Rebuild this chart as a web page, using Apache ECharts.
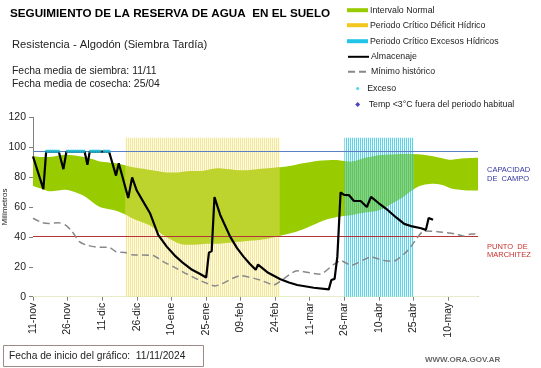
<!DOCTYPE html>
<html><head><meta charset="utf-8">
<script src="https://cdn.jsdelivr.net/npm/echarts@6/dist/echarts.min.js"></script>
<style>html,body{margin:0;padding:0;background:#fff}#c{width:541px;height:368px}</style>
</head><body><div id="c"></div>
<script>
// ---------- DATA ----------
const tickLabels = ['11-nov','26-nov','11-dic','26-dic','10-ene','25-ene','09-feb','24-feb','11-mar','26-mar','10-abr','25-abr','10-may'];
const tickStep = 15;          // days between labels
const axisDays = 193;         // length of the x axis in days (from 11/11/2024)

const bandDays = [0,4,7,11,14,18,22,26,29,33,36,40,43,47,51,54,58,62,65,69,72,76,80,84,87,91,94,98,102,105,109,113,116,120,123,127,131,134,138,141,145,149,152,156,160,163,167,170,174,178,181,185,189,193];
const bandHigh = [94,93.5,93.5,94.5,95,94.5,93.5,92,90.5,89.8,89.3,88,86.8,85.8,84.8,84,83,83,83.5,84,84,85,86,85.5,85,84.5,84.8,85.5,86,86.5,87,88,89,90,90.8,91.3,91.5,91,90.5,91.5,93.2,94.5,95,95.2,95.4,95.5,95.3,94.8,93.8,92.5,91.6,92.3,92.8,93];
const bandLow = [74,72,70.5,71,71.5,70,67.5,63,60,58.5,57.5,55,52.5,50,47.5,44,39.8,36.5,35,34.8,35,35.5,35.5,36,36.5,37,37.5,38,39,40,41.5,43,44.5,47,49,51.5,53,53.8,54.5,55.5,56.5,57.3,59,62.5,66,69.5,73.5,75,75.5,74.5,72.5,71.5,71,71];

const minDays = [0,4,7,11,14,17,20,23,29,33,36,40,43,52,57,61,67,73,79,90,98.5,104.5,107,114.5,124.5,130.5,133.5,138,146.5,153.5,156.5,162.5,166.5,169.5,175.5,183,187,190,193];
const minVals = [52.5,49.5,49,49.5,48,43.5,37,34.6,33,33,30.1,29.5,28,27.5,23,20,15,10.5,7.2,14.1,11.2,7.8,10,17.3,15,21.7,24.1,21,26.5,23.9,23.9,30.8,39.1,44,43.5,42,40.6,42,42];

const storeDays = [0,4.5,5.7,11.2,13.2,14.5,22.4,23.6,24.6,33,36,37.2,41.3,43,45,47.8,50.7,54.3,58,61.5,65.2,69,72.5,75.1,76.3,77.5,78.7,81.2,85.5,88.5,91.3,94,96.6,97.6,102,107.3,111,114.6,121.8,128.3,129.4,130.8,132,133.4,134.9,137,139.2,142.1,144.8,146.6,150,153.8,157.5,161,164.5,168.3,170.4,171.6,173.5];
const storeVals = [93.8,72,97,97,85.3,97,97,88.2,97,97,81,89.3,66,79.8,71,63.6,56,41.3,33.5,27.5,22.4,18,15.2,12.8,29.5,30.5,66.6,54.7,40.2,32.5,26.8,22,18,21.5,16,11.7,9.5,7.8,6,4.9,11.2,11.9,26.8,69.8,68.1,68,64,64,60,66.8,62.5,58,53,48.7,47,45.8,44.7,52.7,51.4];

const excesoDays = [6,7,8,9,10,11,15,16,17,18,19,20,21,22,25,26,27,28,29,31,32,33];
const excesoLevel = 97.3;

const capacidadCampo = 97;
const puntoMarchitez = 40.5;
const deficitPeriod = [40, 107];
const excesoPeriod = [135, 165];
const periodTop = 106.3;

// ---------- CHART ----------
const FF = "'Liberation Sans', Arial, sans-serif";
const zip = (a, b) => a.map((v, i) => [v, b[i]]);
function stripes(dark, light) {
  const c = document.createElement('canvas');
  c.width = 2; c.height = 2;
  const g = c.getContext('2d');
  g.fillStyle = dark; g.fillRect(0, 0, 1, 2);
  g.fillStyle = light; g.fillRect(1, 0, 1, 2);
  return { image: c, repeat: 'repeat' };
}
const chart = echarts.init(document.getElementById('c'), null, { renderer: 'canvas' });

function leg(name, centerY, extra) {
  return Object.assign({
    data: [name], left: 347, top: centerY - 6, padding: 0, itemWidth: 21, itemHeight: 4,
    selectedMode: false, icon: 'rect',
    textStyle: { fontSize: 8.8, color: '#222', fontFamily: FF, padding: [0, 0, 0, -3] }
  }, extra || {});
}
const smallText = { fontSize: 8.8, color: '#222', fontFamily: FF };

const tickValues = tickLabels.map((_, i) => i * tickStep);

chart.setOption({
  animation: false,
  textStyle: { fontFamily: FF },
  title: [
    { text: 'SEGUIMIENTO DE LA RESERVA DE AGUA  EN EL SUELO', left: 10, top: 7.5, padding: 0,
      textStyle: { fontSize: 11.7, fontWeight: 'bold', color: '#000', fontFamily: FF } },
    { text: 'Resistencia - Algodón (Siembra Tardía)', left: 12, top: 39.5, padding: 0,
      textStyle: { fontSize: 11.2, fontWeight: 'normal', color: '#222', fontFamily: FF } },
    { text: 'Fecha media de siembra: 11/11\nFecha media de cosecha: 25/04', left: 12, top: 65, padding: 0,
      textStyle: { fontSize: 10.4, fontWeight: 'normal', color: '#222', lineHeight: 13, fontFamily: FF } }
  ],
  legend: [
    leg('Intervalo Normal', 11.7),
    leg('Periodo Crítico Déficit Hídrico', 26.7),
    leg('Periodo Crítico Excesos Hídricos', 42.7),
    leg('Almacenaje', 58.3, { icon: 'inherit', itemStyle: { opacity: 0 } }),
    leg('Mínimo histórico', 73.3, { icon: 'inherit', itemStyle: { opacity: 0 } }),
    leg('Exceso', 90, { icon: 'circle', itemWidth: 3, itemHeight: 3, left: 356.2, textStyle: Object.assign({}, smallText, { padding: [0, 0, 0, 3] }) }),
    leg('Temp <3°C fuera del periodo habitual', 106, { icon: 'diamond', itemWidth: 5, itemHeight: 5, left: 355.2, textStyle: Object.assign({}, smallText, { padding: [0, 0, 0, 3.5] }) })
  ],
  grid: { left: 33, right: 63, top: 117.3, bottom: 71.3, containLabel: false, outerBoundsMode: 'none' },
  xAxis: {
    type: 'value', min: 0, max: axisDays,
    splitLine: { show: false },
    axisLine: { show: true, lineStyle: { color: '#808080', width: 1 } },
    axisTick: { show: true, length: 4, customValues: tickValues, lineStyle: { color: '#808080' } },
    axisLabel: {
      customValues: tickValues, rotate: 90, margin: 6, fontSize: 10.5, color: '#222', fontFamily: FF,
      formatter: v => tickLabels[Math.round(v / tickStep)] || ''
    }
  },
  yAxis: {
    type: 'value', min: 0, max: 120, interval: 20,
    splitLine: { show: false },
    axisLine: { show: true, lineStyle: { color: '#808080', width: 1 } },
    axisTick: { show: true, length: 4, lineStyle: { color: '#808080' } },
    axisLabel: { fontSize: 10.5, color: '#222', margin: 7, fontFamily: FF }
  },
  series: [
    { name: 'bandHi', type: 'line', data: zip(bandDays, bandHigh), symbol: 'none', smooth: 0.3,
      lineStyle: { opacity: 0 }, areaStyle: { color: '#99cc00', opacity: 1 }, silent: true, z: 1 },
    { name: 'bandLo', type: 'line', data: zip(bandDays, bandLow), symbol: 'none', smooth: 0.3,
      lineStyle: { opacity: 0 }, areaStyle: { color: '#ffffff', opacity: 1 }, silent: true, z: 1.5 },
    { name: 'Intervalo Normal', type: 'bar', data: [], itemStyle: { color: '#99cc00' } },
    { name: 'Periodo Crítico Déficit Hídrico', type: 'bar', data: [], itemStyle: { color: '#f2c81e' }, z: 3,
      markArea: { silent: true, z: 3, itemStyle: { color: stripes('rgba(236,212,70,0.55)', 'rgba(250,242,170,0.3)') },
        data: [[{ xAxis: deficitPeriod[0], yAxis: 0 }, { xAxis: deficitPeriod[1], yAxis: periodTop }]] } },
    { name: 'Periodo Crítico Excesos Hídricos', type: 'bar', data: [], itemStyle: { color: '#22c4e8' }, z: 3,
      markArea: { silent: true, z: 3, itemStyle: { color: stripes('rgba(40,195,225,0.75)', 'rgba(190,235,245,0.25)') },
        data: [[{ xAxis: excesoPeriod[0], yAxis: 0 }, { xAxis: excesoPeriod[1], yAxis: periodTop }]] } },
    { name: 'Mínimo histórico', type: 'line', data: zip(minDays, minVals), symbol: 'none', smooth: 0.2, z: 5,
      lineStyle: { color: '#888', width: 1.5, type: [7, 4] }, itemStyle: { color: '#888' },
      markLine: { silent: true, z: 5, symbol: 'none', label: { show: false },
        data: [
          { yAxis: capacidadCampo, lineStyle: { color: '#5b7fc4', width: 1, type: 'solid' } },
          { yAxis: puntoMarchitez, lineStyle: { color: '#b3343a', width: 1, type: 'solid' } }
        ] } },
    { name: 'Almacenaje', type: 'line', data: zip(storeDays, storeVals), symbol: 'none', z: 8,
      lineStyle: { color: '#000', width: 2.2 }, itemStyle: { color: '#000' } },
    { name: 'Exceso', type: 'scatter', data: excesoDays.map(d => [d, excesoLevel]), symbol: 'rect',
      symbolSize: [3, 3], itemStyle: { color: '#22c8e8' }, z: 10 },
    { name: 'Temp <3°C fuera del periodo habitual', type: 'scatter', data: [], symbol: 'diamond',
      itemStyle: { color: '#1a1aa8' } }
  ],
  graphic: [
    { type: 'text', x: 5, y: 207, rotation: Math.PI / 2, style: { text: 'Milímetros', fill: '#222',
      font: '8px ' + FF, align: 'center', verticalAlign: 'middle' } },
    { type: 'text', left: 487, top: 166, style: { text: 'CAPACIDAD\nDE  CAMPO', fill: '#3535a5',
      font: '7.5px ' + FF, lineHeight: 8.5 } },
    { type: 'text', left: 487, top: 242.5, style: { text: 'PUNTO  DE\nMARCHITEZ', fill: '#c8312b',
      font: '7.5px ' + FF, lineHeight: 8.5 } },
    { type: 'rect', shape: { x: 3.5, y: 345.5, width: 200, height: 21 },
      style: { fill: '#fff', stroke: '#9e8888', lineWidth: 1 } },
    { type: 'text', x: 9, y: 356, style: { text: 'Fecha de inicio del gráfico:  11/11/2024', fill: '#222',
      font: '10.2px ' + FF, verticalAlign: 'middle' } },
    { type: 'text', x: 425, y: 360, style: { text: 'WWW.ORA.GOV.AR', fill: '#6a6a6a',
      font: 'bold 8px ' + FF, verticalAlign: 'middle' } }
  ]
});
</script>
</body></html>
